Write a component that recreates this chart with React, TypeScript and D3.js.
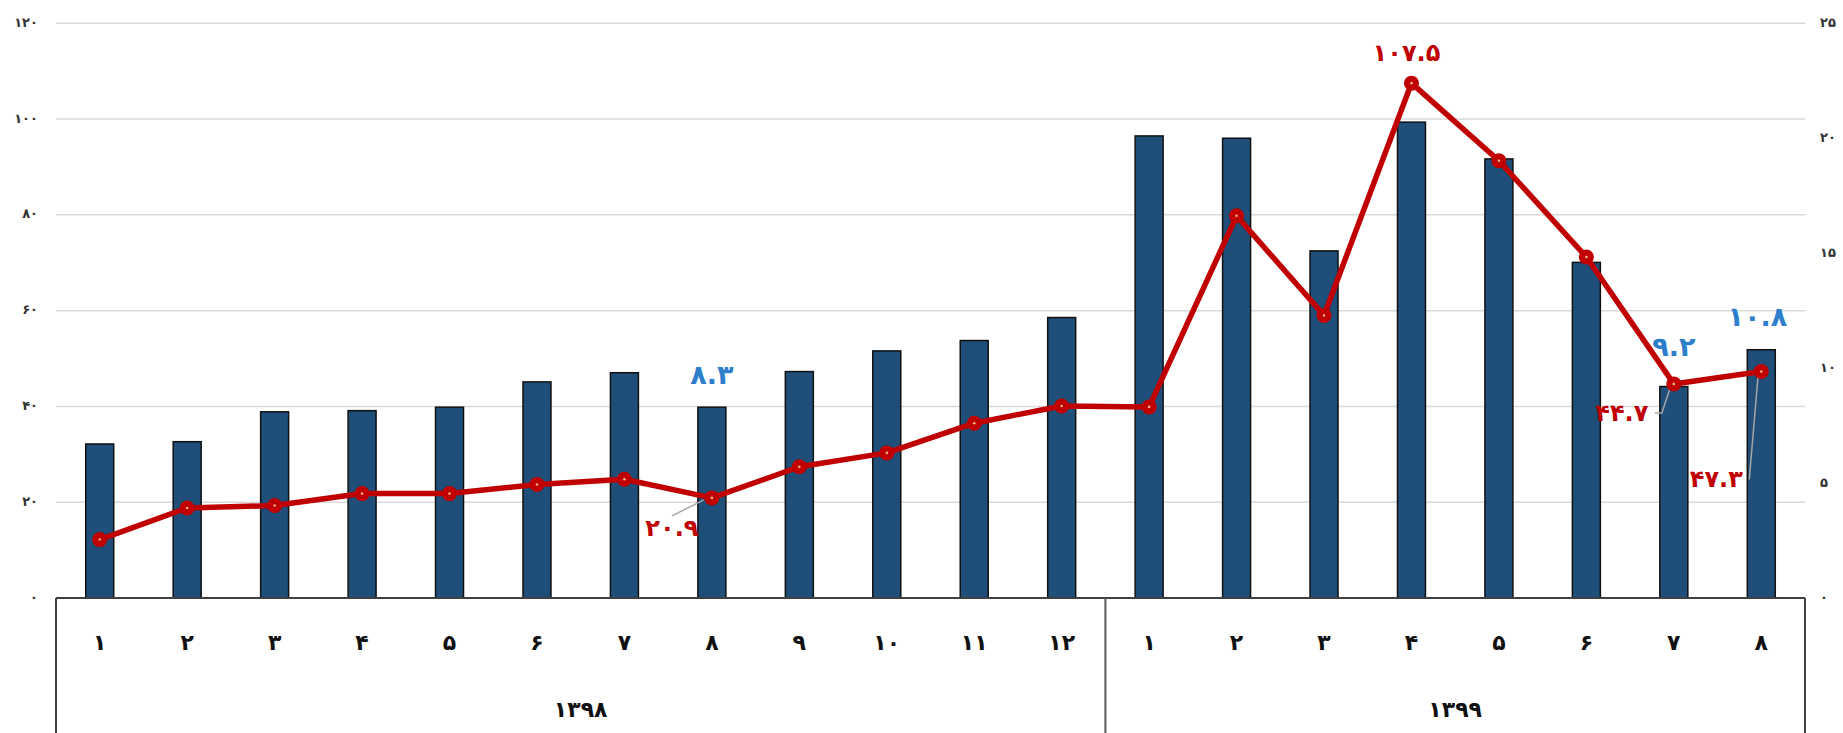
import React, { useEffect } from "react";
import * as d3 from "d3";

// ---- data ----
const months1398 = ["1", "2", "3", "4", "5", "6", "7", "8", "9", "10", "11", "12"];
const months1399 = ["1", "2", "3", "4", "5", "6", "7", "8"];
const years = ["1398", "1399"];
// bars (right axis)
const barValues = [6.7, 6.8, 8.1, 8.15, 8.3, 9.4, 9.8, 8.3, 9.85, 10.75, 11.2, 12.2, 20.1, 20.0, 15.1, 20.7, 19.1, 14.6, 9.2, 10.8];
// line (left axis)
const lineValues = [12.2, 18.8, 19.3, 21.8, 21.8, 23.7, 24.8, 20.9, 27.4, 30.3, 36.5, 40.1, 39.9, 79.8, 59.0, 107.5, 91.3, 71.2, 44.7, 47.3];
const leftTicks = [0, 20, 40, 60, 80, 100, 120];
const rightTicks = [0, 5, 10, 15, 20, 25];

// labelled points: index, offsets for label placement
const barLabels = [
  { i: 7, dx: 0, dy: -23 },
  { i: 18, dx: 0, dy: -31 },
  { i: 19, dx: -4, dy: -24 },
];
const lineLabels = [
  { i: 15, dx: -5, dy: -22, leader: false },
  { i: 7, dx: -40, dy: 38, leader: true },
  { i: 18, dx: -52, dy: 37, leader: true },
  { i: 19, dx: -45, dy: 116, leader: true },
];

const faDigits = "۰۱۲۳۴۵۶۷۸۹";
const toFa = (s: string | number) => String(s).replace(/[0-9]/g, (d) => faDigits[+d]);

const W = 1843;
const H = 733;
const left = 56;
const right = 1805;
const top = 23.3;
const bottom = 598;

const FONT = "'DejaVu Sans', sans-serif";

export default function App() {
  useEffect(() => {
    document.body.style.margin = "0";
  }, []);

  const cats = [...months1398, ...months1399];
  const idx = cats.map((_, i) => i);
  const x = d3.scaleBand<number>().domain(idx).range([left, right]).padding(0);
  const yL = d3.scaleLinear().domain([0, 120]).range([bottom, top]);
  const yR = d3.scaleLinear().domain([0, 25]).range([bottom, top]);
  const bw = x.bandwidth() * 0.32;
  const cx = (i: number) => (x(i) as number) + x.bandwidth() / 2;

  const line = d3
    .line<number>()
    .x((_, i) => cx(i))
    .y((d) => yL(d));

  const divX = x(months1398.length) as number;
  const yearSpans = [
    [left, divX],
    [divX, right],
  ];

  return (
    <svg width={W} height={H} style={{ display: "block", background: "#fff" }} fontFamily={FONT}>
      {/* gridlines */}
      {leftTicks
        .filter((t) => t > 0)
        .map((t) => (
          <line key={t} x1={left} x2={right} y1={yL(t)} y2={yL(t)} stroke="#D9D9D9" strokeWidth={1.5} />
        ))}
      {/* left tick labels */}
      {leftTicks.map((t) => (
        <text key={t} x={38} y={yL(t)} textAnchor="end" dominantBaseline="middle" fontSize={13} fontWeight="bold" fill="#333">
          {toFa(t)}
        </text>
      ))}
      {/* right tick labels */}
      {rightTicks.map((t) => (
        <text key={t} x={1820} y={yR(t)} textAnchor="start" dominantBaseline="middle" fontSize={13} fontWeight="bold" fill="#333">
          {toFa(t)}
        </text>
      ))}
      {/* bars */}
      {barValues.map((v, i) => (
        <rect key={i} x={cx(i) - bw / 2} y={yR(v)} width={bw} height={bottom - yR(v)} fill="#1F4E79" stroke="#111" strokeWidth={1.5} />
      ))}
      {/* category axis box */}
      <g stroke="#404040" strokeWidth={2} fill="none">
        <line x1={left} x2={right} y1={bottom} y2={bottom} />
        <line x1={left} x2={left} y1={bottom} y2={H + 5} />
        <line x1={right} x2={right} y1={bottom} y2={H + 5} />
        <line x1={divX} x2={divX} y1={bottom} y2={H + 5} stroke="#595959" />
      </g>
      {cats.map((c, i) => (
        <text key={i} x={cx(i)} y={644} textAnchor="middle" dominantBaseline="middle" fontSize={22} fontWeight="bold" fill="#111">
          {toFa(c)}
        </text>
      ))}
      {years.map((yv, k) => (
        <text key={yv} x={(yearSpans[k][0] + yearSpans[k][1]) / 2} y={711} textAnchor="middle" dominantBaseline="middle" fontSize={22} fontWeight="bold" fill="#111">
          {toFa(yv)}
        </text>
      ))}
      {/* leader lines */}
      {lineLabels
        .filter((l) => l.leader)
        .map((l) => {
          const px = cx(l.i);
          const py = yL(lineValues[l.i]);
          const lx = px + l.dx;
          const ly = py + l.dy - 8;
          let d: string;
          if (l.i === 7) d = `M${lx}, ${ly - 12} L${px - 8},${py + 2}`;
          else d = `M${lx + 33},${ly} L${px - 12},${ly} L${px - 3},${py + 2}`;
          return <path key={l.i} d={d} stroke="#A6A6A6" strokeWidth={1.5} fill="none" />;
        })}
      {/* line */}
      <path d={line(lineValues) || ""} fill="none" stroke="#C00000" strokeWidth={5.5} strokeLinejoin="round" />
      {lineValues.map((v, i) => (
        <g key={i}>
          <circle cx={cx(i)} cy={yL(v)} r={7.5} fill="#C00000" />
          <circle cx={cx(i)} cy={yL(v)} r={1.3} fill="#F4B183" />
        </g>
      ))}
      {/* data labels */}
      {barLabels.map((l) => (
        <text key={"b" + l.i} x={cx(l.i) + l.dx} y={yR(barValues[l.i]) + l.dy} textAnchor="middle" fontSize={27} fontWeight="bold" fill="#2E7FCB">
          {toFa(barValues[l.i].toFixed(1))}
        </text>
      ))}
      {lineLabels.map((l) => (
        <text key={"l" + l.i} x={cx(l.i) + l.dx} y={yL(lineValues[l.i]) + l.dy} textAnchor="middle" fontSize={24} fontWeight="bold" fill="#C00000">
          {toFa(lineValues[l.i].toFixed(1))}
        </text>
      ))}
    </svg>
  );
}
